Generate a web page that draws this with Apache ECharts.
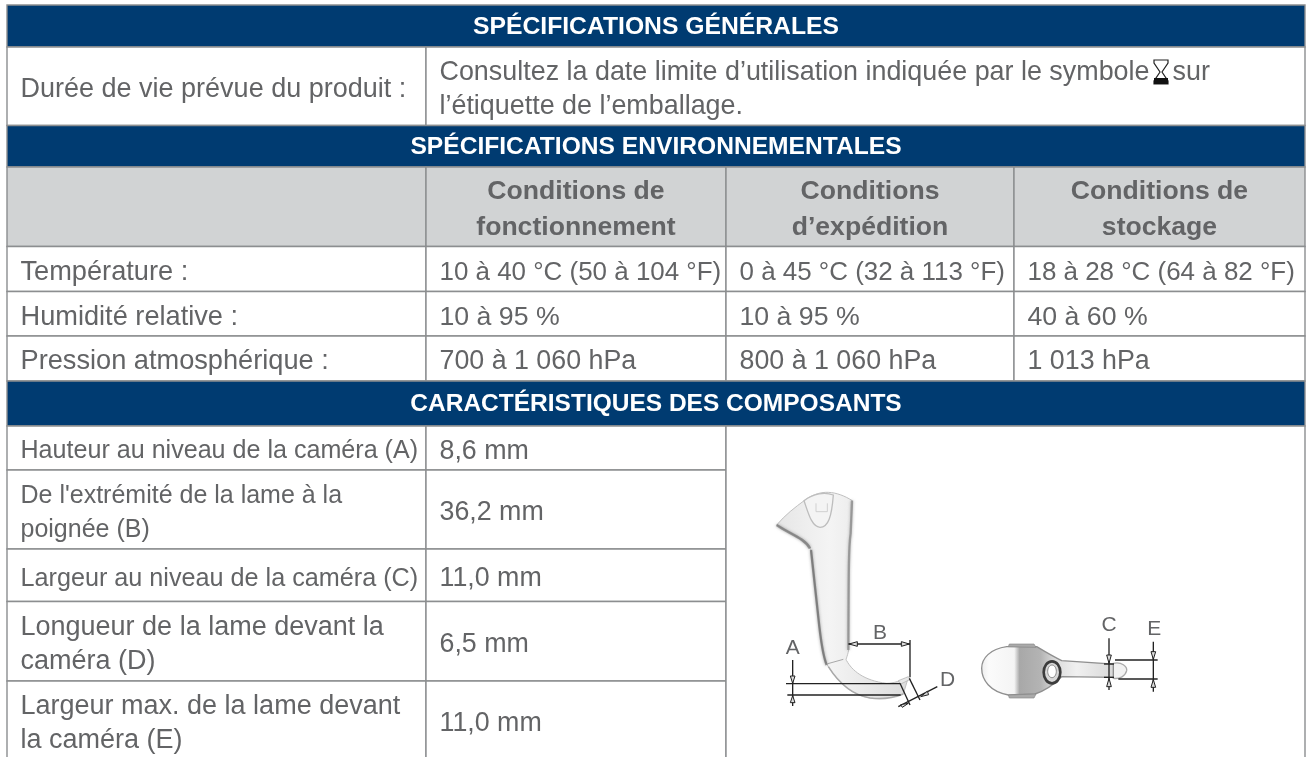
<!DOCTYPE html>
<html>
<head>
<meta charset="utf-8">
<style>
html, body { margin: 0; padding: 0; background: #fff; }
#main { width: 1310px; height: 757px; }
</style>
<script src="https://cdn.jsdelivr.net/npm/echarts@6/dist/echarts.min.js"></script>
</head>
<body>
<div id="main"></div>
<script>
var sectionTitles = ['SPÉCIFICATIONS GÉNÉRALES', 'SPÉCIFICATIONS ENVIRONNEMENTALES', 'CARACTÉRISTIQUES DES COMPOSANTS'];
var lifeLabel = 'Durée de vie prévue du produit :';
var lifeTextStart = 'Consultez la date limite d’utilisation indiquée par le symbole';
var lifeTextEnd = 'sur';
var lifeTextLine2 = 'l’étiquette de l’emballage.';
var envHeaders = ['Conditions de\nfonctionnement', 'Conditions\nd’expédition', 'Conditions de\nstockage'];
var envLabels = ['Température :', 'Humidité relative :', 'Pression atmosphérique :'];
var operating = ['10 à 40 °C (50 à 104 °F)', '10 à 95 %', '700 à 1 060 hPa'];
var shipping = ['0 à 45 °C (32 à 113 °F)', '10 à 95 %', '800 à 1 060 hPa'];
var storage = ['18 à 28 °C (64 à 82 °F)', '40 à 60 %', '1 013 hPa'];
var partLabels = ['Hauteur au niveau de la caméra (A)', 'De l\'extrémité de la lame à la\npoignée (B)', 'Largeur au niveau de la caméra (C)', 'Longueur de la lame devant la\ncaméra (D)', 'Largeur max. de la lame devant\nla caméra (E)'];
var partValues = ['8,6 mm', '36,2 mm', '11,0 mm', '6,5 mm', '11,0 mm'];

// table layout, in pixels
var colX = [7, 426, 726, 1014, 1305];
var rowY = [5, 47, 125.5, 167, 246.5, 291.5, 336, 381, 426, 470, 549, 601.5, 681, 760];
// the source squeezes some cells to fit, so sizes differ a little
var partSizes = [25.1, 25, 25.2, 27, 27];
var envValueSizes = [25.95, 26.7, 26.8];

var BLUE = '#003b71', GREY = '#d1d3d4', TEXT = '#636466', RULE = '#8c8e90';
var FONT = '"Liberation Sans", Arial, sans-serif';
var TITLE_SIZE = 23;

var cells = [];
function addCell(c0, c1, r0, r1, fill, text, kind, size, fmt) {
    cells.push({
        x0: colX[c0], x1: colX[c1], y0: rowY[r0], y1: rowY[r1],
        fill: fill, text: text, kind: kind, size: size, rich: fmt
    });
}

addCell(0, 4, 0, 1, BLUE, sectionTitles[0], 'title', 24.7);
addCell(0, 1, 1, 2, '#fff', lifeLabel, 'body', 27);
addCell(1, 4, 1, 2, '#fff', '{b|' + lifeTextStart + '}{gap|}{b|' + lifeTextEnd + '}\n{b|' + lifeTextLine2 + '}', 'body', 26.9, true);
addCell(0, 4, 2, 3, BLUE, sectionTitles[1], 'title', 24.6);
addCell(0, 1, 3, 4, GREY, '', 'body', 27);
envHeaders.forEach(function (h, i) {
    addCell(i + 1, i + 2, 3, 4, GREY, h, 'head', 26.6);
});
envLabels.forEach(function (label, i) {
    addCell(0, 1, 4 + i, 5 + i, '#fff', label, 'body', 27.2);
    addCell(1, 2, 4 + i, 5 + i, '#fff', operating[i], 'body', envValueSizes[i]);
    addCell(2, 3, 4 + i, 5 + i, '#fff', shipping[i], 'body', envValueSizes[i]);
    addCell(3, 4, 4 + i, 5 + i, '#fff', storage[i], 'body', envValueSizes[i]);
});
addCell(0, 4, 7, 8, BLUE, sectionTitles[2], 'title', 24.5);
partLabels.forEach(function (label, i) {
    addCell(0, 1, 8 + i, 9 + i, '#fff', label, 'body', partSizes[i]);
    addCell(1, 2, 8 + i, 9 + i, '#fff', partValues[i], 'body', 26.8);
});
addCell(2, 4, 8, 13, '#fff', '', 'body', 27);

function renderCell(params, api) {
    var c = cells[api.value(0)];
    var p0 = api.coord([c.x0, c.y0]);
    var p1 = api.coord([c.x1, c.y1]);
    var isTitle = c.kind === 'title';
    var isHead = c.kind === 'head';
    var textX = isTitle || isHead ? (p0[0] + p1[0]) / 2 : p0[0] + 13.5;
    var textY = (p0[1] + p1[1]) / 2 + (isTitle ? 1.5 : isHead ? 2.5 : 3.5);
    var style = {
        text: c.text,
        fontFamily: FONT,
        fontSize: isTitle ? TITLE_SIZE : c.size,
        fontWeight: isTitle || isHead ? 'bold' : 'normal',
        fill: isTitle ? '#fff' : TEXT,
        lineHeight: isHead ? 36 : 34,
        align: isTitle || isHead ? 'center' : 'left',
        verticalAlign: 'middle',
        x: 0,
        y: 0
    };
    if (c.rich) {
        style.rich = {
            b: {fontFamily: FONT, fontSize: c.size, fill: TEXT, lineHeight: 34},
            gap: {width: 23, height: 1}
        };
    }
    return {
        type: 'group',
        children: [
            {
                type: 'rect',
                shape: {x: p0[0], y: p0[1], width: p1[0] - p0[0], height: p1[1] - p0[1]},
                style: {fill: c.fill, stroke: RULE, lineWidth: 1.4}
            },
            {
                type: 'text',
                x: textX,
                y: textY,
                // the titles are letter-spaced in the source, stretch them to the same width
                scaleX: isTitle ? c.size / TITLE_SIZE : 1,
                style: style,
                z2: 5
            }
        ]
    };
}

// blade drawing, traced at 3x around (730, 470)
var bladeSide = 'M140 165 C165 135 195 112 225 90 C250 72 275 66 295 67 C320 68 345 78 367 92 L362 190 C356 230 356 300 356 540 C352 562 345 570 350 572 C365 600 400 632 470 640 C490 640 515 632 535 622 L520 672 C490 684 450 688 420 684 C370 676 330 645 295 590 C280 570 275 530 268 470 L243 240 C230 212 190 195 140 165 Z';
var bladeTop = 'M222 92 C235 130 245 170 270 172 C295 172 305 140 310 75 C285 65 250 70 222 92 Z';
var bladeBody = 'M755 595 C755 565 780 537 830 530 L920 530 C945 545 970 560 995 572 L1150 582 L1150 622 L995 620 C975 640 950 660 915 672 L835 675 C780 665 755 630 755 595 Z';
var bladeTip = 'M1150 580 C1175 574 1192 590 1190 602 C1186 618 1170 628 1150 625 Z';
var dimLines = [
    'M168 641 L510 641', 'M172 675 L512 675', 'M188 570 L188 708',
    'M355 522 L540 522', 'M540 510 L540 622', 'M510 640 L540 705', 'M538 625 L570 690', 'M505 710 L622 650',
    'M1137 505 L1137 660', 'M1122 582 L1152 582', 'M1122 622 L1152 622',
    'M1270 515 L1270 665', 'M1155 570 L1283 570', 'M1165 627 L1283 627'
];
var arrowHeads = [
    'M181 618 L195 618 L188 640 Z', 'M181 698 L195 698 L188 677 Z',
    'M357 522 L382 515 L382 529 Z', 'M538 522 L514 515 L514 529 Z',
    'M1130 555 L1144 555 L1137 580 Z', 'M1130 650 L1144 650 L1137 625 Z',
    'M1263 545 L1277 545 L1270 568 Z', 'M1263 652 L1277 652 L1270 629 Z',
    'M535 700 L512 704 L517 712 Z', 'M572 680 L592 664 L596 674 Z'
];
var dimLabels = [['A', 188, 535], ['B', 450, 490], ['C', 1137, 465], ['D', 653, 630], ['E', 1273, 478]];

var drawing = [
    {
        type: 'path', shape: {pathData: bladeSide},
        style: {
            fill: {
                type: 'linear', x: 0, y: 0, x2: 1, y2: 0,
                colorStops: [{offset: 0, color: '#e6e6e6'}, {offset: 0.4, color: '#f4f4f4'}, {offset: 1, color: '#dcdcdc'}]
            },
            stroke: '#c0c0c0', lineWidth: 3
        }
    },
    {type: 'path', shape: {pathData: bladeTop}, style: {fill: '#f4f4f4', stroke: '#bdbdbd', lineWidth: 4}},
    {type: 'path', shape: {pathData: 'M258 100 L258 125 L292 125 L292 100'}, style: {fill: 'none', stroke: '#d0d0d0', lineWidth: 3}},
    {type: 'path', shape: {pathData: 'M243 240 L268 470 C275 530 280 560 290 585'}, style: {fill: 'none', stroke: '#6e6e6e', lineWidth: 7, opacity: 0.75, shadowBlur: 3, shadowColor: '#888'}},
    {type: 'path', shape: {pathData: 'M140 165 C175 190 225 205 240 235'}, style: {fill: 'none', stroke: '#7a7a7a', lineWidth: 8, opacity: 0.75, shadowBlur: 3, shadowColor: '#888'}},
    {type: 'path', shape: {pathData: 'M366 92 L362 190 C356 230 356 300 355 540'}, style: {fill: 'none', stroke: '#8e8e8e', lineWidth: 7, opacity: 0.75, shadowBlur: 3, shadowColor: '#999'}},
    {type: 'path', shape: {pathData: 'M295 590 C330 645 370 676 420 684 C450 688 490 684 520 672'}, style: {fill: 'none', stroke: '#a0a0a0', lineWidth: 5, opacity: 0.8}},
    {type: 'path', shape: {pathData: 'M290 582 L340 568'}, style: {fill: 'none', stroke: '#a8a8a8', lineWidth: 3}},
    {type: 'path', shape: {pathData: 'M505 632 L535 620 L541 628 L512 642 Z'}, style: {fill: '#e8e8e8', stroke: '#aaa', lineWidth: 2}},
    {type: 'path', shape: {pathData: bladeTip}, style: {fill: '#f2f2f2', stroke: '#aaa', lineWidth: 4}},
    {
        type: 'path', shape: {pathData: bladeBody},
        style: {
            fill: {
                type: 'linear', x: 0, y: 0, x2: 1, y2: 0,
                colorStops: [{offset: 0, color: '#ececec'}, {offset: 0.06, color: '#fbfbfb'}, {offset: 0.25, color: '#f4f4f4'}, {offset: 0.29, color: '#a8a8a8'}, {offset: 0.45, color: '#b4b4b4'}, {offset: 0.56, color: '#dcdcdc'}, {offset: 0.72, color: '#f0f0f0'}, {offset: 1, color: '#d8d8d8'}]
            },
            stroke: '#8f8f8f', lineWidth: 4
        }
    },
    {type: 'path', shape: {pathData: 'M835 530 L838 522 L912 522 L918 532 Z M835 675 L838 684 L912 684 L918 672 Z'}, style: {fill: '#aaa', stroke: '#888', lineWidth: 2}},
    {type: 'ellipse', shape: {cx: 966, cy: 607, rx: 25, ry: 33}, style: {fill: '#d8d8d8', stroke: '#3c3c3c', lineWidth: 8}},
    {type: 'ellipse', shape: {cx: 966, cy: 604, rx: 13, ry: 19}, style: {fill: '#fff', stroke: '#888', lineWidth: 3}}
];
dimLines.forEach(function (d) {
    drawing.push({type: 'path', shape: {pathData: d}, style: {fill: 'none', stroke: '#222', lineWidth: 4}, z2: 3});
});
arrowHeads.forEach(function (d) {
    drawing.push({type: 'path', shape: {pathData: d}, style: {fill: '#ddd', stroke: '#222', lineWidth: 3}, z2: 4});
});
dimLabels.forEach(function (l) {
    drawing.push({
        type: 'text', z2: 4,
        style: {text: l[0], x: l[1], y: l[2], fontFamily: FONT, fontSize: 63, fill: TEXT, align: 'center', verticalAlign: 'middle'}
    });
});

function renderDrawing() {
    return {
        type: 'group',
        children: [
            {type: 'group', x: 730, y: 470, scaleX: 1 / 3, scaleY: 1 / 3, children: drawing},
            {
                // hourglass symbol in the first row
                type: 'group', x: 1153, y: 59,
                children: [
                    {type: 'path', shape: {pathData: 'M1 1 L15 1 L15 4 L9 13 L15 22 L15 25 L1 25 L1 22 L7 13 L1 4 Z'}, style: {fill: '#fff', stroke: '#222', lineWidth: 1.2}},
                    {type: 'rect', shape: {x: 1, y: 19, width: 14, height: 6}, style: {fill: '#111'}}
                ]
            }
        ]
    };
}

var chart = echarts.init(document.getElementById('main'));
chart.setOption({
    animation: false,
    backgroundColor: '#fff',
    grid: {left: 0, right: 0, top: 0, bottom: 0},
    xAxis: {type: 'value', min: 0, max: 1310, show: false},
    yAxis: {type: 'value', min: 0, max: 757, inverse: true, show: false},
    series: [
        {
            type: 'custom',
            coordinateSystem: 'cartesian2d',
            encode: {x: 0, y: 0},
            renderItem: renderCell,
            silent: true,
            data: cells.map(function (c, i) { return [i]; })
        },
        {
            type: 'custom',
            coordinateSystem: 'cartesian2d',
            encode: {x: 0, y: 0},
            renderItem: renderDrawing,
            silent: true,
            z: 5,
            data: [[0]]
        }
    ]
});
</script>
</body>
</html>
